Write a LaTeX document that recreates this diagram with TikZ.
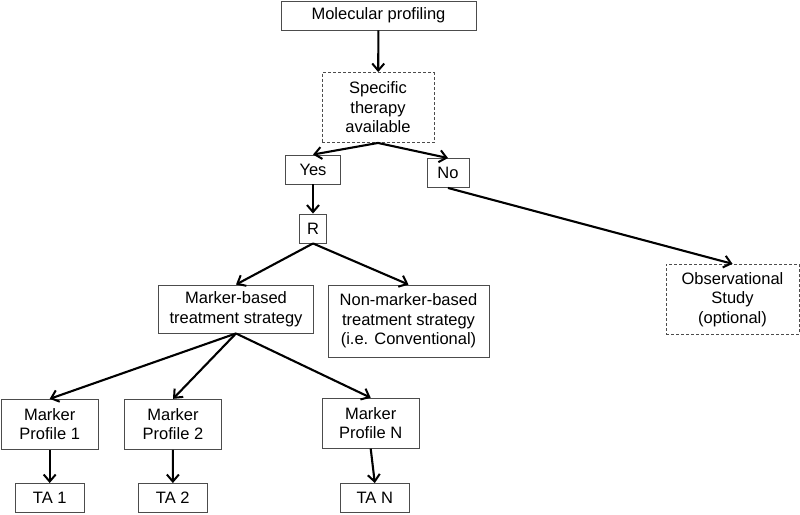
\documentclass[tikz,border=0pt]{standalone}
\usepackage{fontspec}
\setmainfont{Liberation Sans}
\usetikzlibrary{arrows.meta}
\begin{document}
\begin{tikzpicture}[x=1pt,y=-1pt,
 box/.style={draw=black!70, line width=0.9pt, align=center, inner sep=0pt, font=\fontsize{16.5}{19.5}\selectfont},
 dbox/.style={box, dash pattern=on 3pt off 2pt},
 arr/.style={line width=2.1pt, -{Straight Barb[length=7pt,width=12pt,line width=2pt]}}
]
\useasboundingbox (0,0) rectangle (800,514);
\node[box, minimum width=195pt, minimum height=29pt] (mp) at (378.5,15.5) {Molecular profiling};
\node[dbox, minimum width=112pt, minimum height=70pt] (spec) at (378,107.5) {Specific\\therapy\\available};
\node[box, minimum width=55pt, minimum height=29pt] (yes) at (313,169.5) {Yes};
\node[box, minimum width=42pt, minimum height=29pt] (no) at (448,173) {No};
\node[box, minimum width=27pt, minimum height=29pt] (r) at (313,228.5) {R};
\node[box, minimum width=155pt, minimum height=48pt] (mb) at (236,309) {Marker-based\\treatment strategy};
\node[box, minimum width=161pt, minimum height=72pt] (nmb) at (408.5,321) {Non-marker-based\\treatment strategy\\(i.e. Conventional)};
\node[dbox, minimum width=133pt, minimum height=70pt] (obs) at (732.5,299.3) {Observational\\Study\\(optional)};
\node[box, minimum width=97pt, minimum height=50pt] (p1) at (49.7,424.3) {Marker\\Profile 1};
\node[box, minimum width=97pt, minimum height=50pt] (p2) at (173,424.3) {Marker\\Profile 2};
\node[box, minimum width=97pt, minimum height=50pt] (pn) at (370.7,423.2) {Marker\\Profile N};
\node[box, minimum width=69pt, minimum height=29pt] (t1) at (49.7,498) {TA 1};
\node[box, minimum width=69pt, minimum height=29pt] (t2) at (172.8,498) {TA 2};
\node[box, minimum width=69pt, minimum height=29pt] (tn) at (374.8,498) {TA N};
\draw[arr] (mp) -- (spec);
\draw[arr] (spec.south) -- (yes.north);
\draw[arr] (spec.south) -- (no.north);
\draw[arr] (no.south) -- (obs.north);
\draw[arr] (yes) -- (r);
\draw[arr] (r.south) -- (mb.north);
\draw[arr] (r.south) -- (nmb.north);
\draw[arr] (mb.south) -- (p1.north);
\draw[arr] (mb.south) -- (p2.north);
\draw[arr] (mb.south) -- (pn.north);
\draw[arr] (p1) -- (t1);
\draw[arr] (p2) -- (t2);
\draw[arr] (pn.south) -- (tn.north);
\end{tikzpicture}
\end{document}
